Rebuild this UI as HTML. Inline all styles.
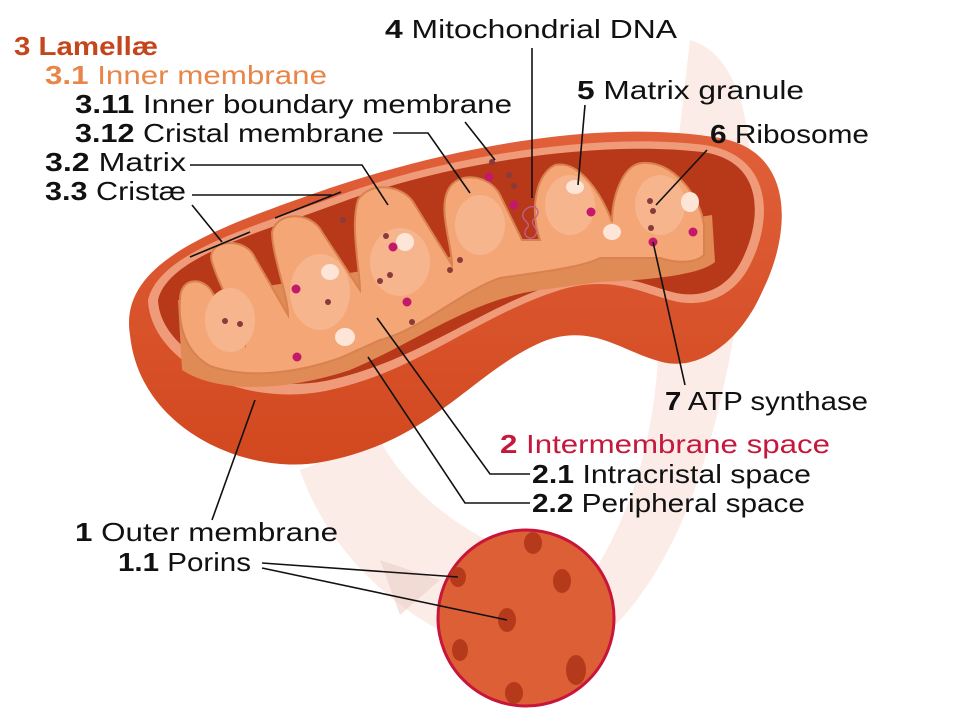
<!DOCTYPE html>
<html><head><meta charset="utf-8"><style>
html,body{margin:0;padding:0;background:#fff;}
svg{display:block;}
text{font-family:"Liberation Sans",sans-serif;font-size:26px;}
</style></head><body>
<svg width="961" height="721" viewBox="0 0 961 721" xmlns="http://www.w3.org/2000/svg">
<defs>
<linearGradient id="body" x1="0" y1="0" x2="0" y2="1">
<stop offset="0" stop-color="#e0603a"/><stop offset="1" stop-color="#d2481f"/></linearGradient>
</defs>
<!-- faint background shapes -->
<path d="M690,40 C760,60 760,200 740,300 C720,420 690,560 600,640 L560,620 C640,520 660,420 660,300 Z" fill="#fae4de" opacity="0.7"/>
<path d="M300,470 C330,560 420,640 520,660 L540,560 C460,540 400,480 380,440 Z" fill="#f8e0d8" opacity="0.6"/>
<polygon points="380,560 440,580 400,615" fill="#ecd0c8" opacity="0.6"/>
<!-- outer body -->
<path d="M130,335 C118,262 215,228 330,188 C450,148 600,118 720,138 C795,152 792,232 762,292 C742,338 702,372 662,362 C622,352 592,322 542,342 C472,372 432,442 322,462 C250,476 140,432 130,335 Z" fill="url(#body)"/>
<!-- lip -->
<path d="M148,300 C160,250 260,225 340,195 C450,155 600,132 705,145 C770,155 775,215 750,265 C735,295 705,310 670,300 C640,292 610,275 560,290 C480,315 420,370 330,390 C240,410 150,360 148,300 Z" fill="#ef9a78"/>
<!-- cavity -->
<path d="M158,300 C168,256 262,232 342,202 C450,162 600,140 702,152 C762,160 764,215 742,260 C728,288 702,300 672,292 C642,284 612,268 562,282 C482,306 420,360 330,380 C245,398 160,352 158,300 Z" fill="#b8391a"/>
<!-- cristae front band -->
<path d="M178,300 L182,370 C220,395 290,390 350,370 C420,340 470,300 540,290 L600,282 C650,280 700,275 715,262 L712,215 L180,300 Z" fill="#e08a55"/>
<!-- cristae -->
<g fill="#f4a676" stroke="#d9824f" stroke-width="2">
<path d="M180,300 C180,275 205,278 212,292 L245,345 C245,325 222,295 212,262 C205,240 245,235 255,258 L288,315 C288,295 272,255 272,232 C278,210 312,212 322,232 L360,290 C360,270 350,225 358,200 C370,180 405,185 415,205 L452,265 C452,245 438,210 448,190 C458,170 490,175 500,195 L522,240 L540,240 C530,210 535,175 555,165 C580,160 602,195 612,222 C612,198 622,165 642,163 C672,160 700,195 704,225 L704,255 C694,265 672,262 660,258 L600,258 C580,268 540,272 500,278 C460,292 420,330 380,340 L340,358 C300,372 250,380 210,366 C185,352 178,325 180,300 Z"/>
</g>
<g fill="#f7b58e">
<ellipse cx="230" cy="320" rx="25" ry="32"/><ellipse cx="320" cy="292" rx="30" ry="38"/><ellipse cx="400" cy="262" rx="30" ry="34"/><ellipse cx="480" cy="225" rx="25" ry="30"/><ellipse cx="570" cy="205" rx="25" ry="30"/><ellipse cx="660" cy="205" rx="25" ry="30"/>
</g>
<g fill="#fde6d8"><ellipse cx="345" cy="337" rx="10" ry="9"/><ellipse cx="330" cy="272" rx="9" ry="8"/><ellipse cx="405" cy="242" rx="9" ry="9"/><ellipse cx="575" cy="187" rx="9" ry="7"/><ellipse cx="690" cy="202" rx="9" ry="10"/><ellipse cx="612" cy="232" rx="9" ry="8"/></g>
<g fill="#8a3a3a"><circle cx="225" cy="321" r="3"/><circle cx="240" cy="324" r="3"/><circle cx="328" cy="302" r="3"/><circle cx="386" cy="236" r="3"/><circle cx="412" cy="322" r="3"/><circle cx="492" cy="162" r="3"/><circle cx="509" cy="175" r="3"/><circle cx="514" cy="186" r="3"/><circle cx="460" cy="260" r="3"/><circle cx="653" cy="211" r="3"/><circle cx="651" cy="228" r="3"/><circle cx="650" cy="201" r="3"/><circle cx="450" cy="270" r="3"/><circle cx="343" cy="220" r="3"/><circle cx="390" cy="275" r="3"/><circle cx="380" cy="281" r="3"/></g>
<g fill="#c4186a"><circle cx="296" cy="289" r="4.5"/><circle cx="297" cy="357" r="4.5"/><circle cx="407" cy="302" r="4.5"/><circle cx="393" cy="247" r="4.5"/><circle cx="489" cy="177" r="4.5"/><circle cx="514" cy="205" r="4.5"/><circle cx="591" cy="212" r="4.5"/><circle cx="653" cy="242" r="4.5"/><circle cx="693" cy="232" r="4.5"/></g>
<path d="M525,210 c8,-8 18,0 10,8 c-8,6 6,10 0,18 c-6,6 -14,-2 -8,-8 c6,-6 -10,-8 -2,-18" fill="none" stroke="#c06090" stroke-width="1.3"/>
<!-- porin circle -->
<circle cx="526" cy="618" r="88" fill="#dc5f35" stroke="#c8163a" stroke-width="3"/>
<g fill="#b53a1c"><ellipse cx="458" cy="577" rx="8" ry="10"/><ellipse cx="533" cy="543" rx="9" ry="11"/><ellipse cx="562" cy="581" rx="9" ry="12"/><ellipse cx="507" cy="620" rx="9" ry="12"/><ellipse cx="460" cy="650" rx="8" ry="11"/><ellipse cx="576" cy="670" rx="10" ry="15"/><ellipse cx="514" cy="693" rx="9" ry="11"/></g>
<!-- leader lines -->
<g stroke="#111" stroke-width="1.6" fill="none">
<polyline points="393,133 428,133 470,193"/>
<line x1="465" y1="122" x2="495" y2="160"/>
<polyline points="190,165 362,165 388,205"/>
<polyline points="192,195 332,195"/>
<line x1="192" y1="205" x2="222" y2="242"/>
<line x1="190" y1="257" x2="250" y2="232"/>
<line x1="275" y1="218" x2="341" y2="192"/>
<line x1="532" y1="48" x2="532" y2="198"/>
<line x1="585" y1="105" x2="578" y2="185"/>
<line x1="707" y1="150" x2="656" y2="205"/>
<line x1="685" y1="385" x2="653" y2="242"/>
<polyline points="530,474 490,474 377,318"/>
<polyline points="530,503 465,503 368,357"/>
<line x1="212" y1="520" x2="255" y2="400"/>
<line x1="262" y1="563" x2="458" y2="577"/>
<line x1="262" y1="568" x2="507" y2="620"/>
</g>
<!-- labels -->
<g lengthAdjust="spacingAndGlyphs">
<text x="14" y="55" fill="#c4461d" font-weight="bold" textLength="144" lengthAdjust="spacingAndGlyphs">3 Lamellæ</text>
<text x="45" y="84" fill="#e8864a" textLength="282" lengthAdjust="spacingAndGlyphs"><tspan font-weight="bold">3.1</tspan> Inner membrane</text>
<text x="75" y="113" fill="#111" textLength="437" lengthAdjust="spacingAndGlyphs"><tspan font-weight="bold">3.11</tspan> Inner boundary membrane</text>
<text x="75" y="142" fill="#111" textLength="309" lengthAdjust="spacingAndGlyphs"><tspan font-weight="bold">3.12</tspan> Cristal membrane</text>
<text x="45" y="171" fill="#111" textLength="141" lengthAdjust="spacingAndGlyphs"><tspan font-weight="bold">3.2</tspan> Matrix</text>
<text x="45" y="200" fill="#111" textLength="141" lengthAdjust="spacingAndGlyphs"><tspan font-weight="bold">3.3</tspan> Cristæ</text>
<text x="385" y="38" fill="#111" textLength="292" lengthAdjust="spacingAndGlyphs"><tspan font-weight="bold">4</tspan> Mitochondrial DNA</text>
<text x="577" y="99" fill="#111" textLength="227" lengthAdjust="spacingAndGlyphs"><tspan font-weight="bold">5</tspan> Matrix granule</text>
<text x="710" y="143" fill="#111" textLength="159" lengthAdjust="spacingAndGlyphs"><tspan font-weight="bold">6</tspan> Ribosome</text>
<text x="665" y="410" fill="#111" textLength="203" lengthAdjust="spacingAndGlyphs"><tspan font-weight="bold">7</tspan> ATP synthase</text>
<text x="500" y="453" fill="#c4183c" textLength="330" lengthAdjust="spacingAndGlyphs"><tspan font-weight="bold">2</tspan> Intermembrane space</text>
<text x="532" y="483" fill="#111" textLength="279" lengthAdjust="spacingAndGlyphs"><tspan font-weight="bold">2.1</tspan> Intracristal space</text>
<text x="532" y="512" fill="#111" textLength="273" lengthAdjust="spacingAndGlyphs"><tspan font-weight="bold">2.2</tspan> Peripheral space</text>
<text x="75" y="541" fill="#111" textLength="263" lengthAdjust="spacingAndGlyphs"><tspan font-weight="bold">1</tspan> Outer membrane</text>
<text x="118" y="571" fill="#111" textLength="133" lengthAdjust="spacingAndGlyphs"><tspan font-weight="bold">1.1</tspan> Porins</text>
</g>
</svg>
</body></html>
